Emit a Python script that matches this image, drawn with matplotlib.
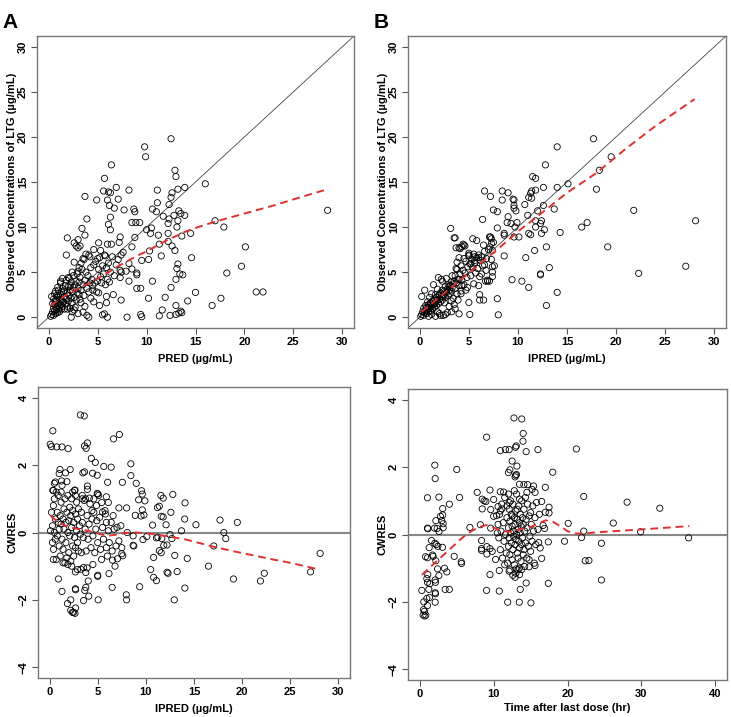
import numpy as np
import matplotlib
matplotlib.use("Agg")
import matplotlib.pyplot as plt

plt.rcParams["font.family"] = ["Liberation Sans", "DejaVu Sans"]
plt.rcParams["font.weight"] = "bold"

# ---- panel A: PRED vs observed ----
a_pts = [
    (12.5, 19.8), (9.8, 18.9), (9.9, 17.8), (6.4, 16.9), (5.7, 15.4), (12.9, 16.3), (13.0, 15.6),
    (16.0, 14.8), (13.9, 14.4), (6.9, 14.4), (5.6, 14.0), (6.1, 13.9), (6.3, 13.8), (8.2, 14.1),
    (11.1, 14.1), (13.2, 14.2), (12.6, 13.8), (3.7, 13.4), (4.9, 13.0), (7.1, 13.1), (6.0, 13.0),
    (12.5, 13.3), (6.2, 12.4), (6.7, 12.1), (7.7, 11.9), (10.6, 12.0), (11.1, 12.7), (11.0, 11.7),
    (8.7, 12.0), (8.8, 11.7), (12.3, 12.5), (13.3, 11.8), (13.5, 11.5), (13.9, 11.3), (11.7, 11.2),
    (12.8, 11.3), (3.9, 10.9), (6.3, 11.1), (8.5, 10.5), (8.9, 10.5), (9.3, 10.5), (12.3, 10.9),
    (12.2, 10.4), (13.2, 10.7), (17.0, 10.7), (6.1, 10.3), (6.3, 9.7), (3.4, 9.85), (10.5, 9.9),
    (13.1, 10.0), (17.9, 10.0), (3.7, 9.1), (1.9, 8.8), (7.3, 8.9), (8.8, 8.85), (10.0, 9.7),
    (10.4, 9.3), (11.2, 9.1), (12.2, 9.3), (13.6, 9.0), (14.5, 9.3), (3.0, 8.6), (5.1, 8.25),
    (6.0, 8.1), (6.4, 8.1), (7.2, 8.3), (2.6, 8.25), (2.8, 7.9), (3.0, 7.7), (3.2, 7.9), (8.5, 7.8),
    (11.3, 8.1), (12.2, 8.4), (12.6, 7.9), (12.9, 7.4), (20.1, 7.8), (10.3, 7.35), (1.8, 6.9),
    (5.3, 7.4), (4.1, 6.9), (4.6, 7.5), (7.4, 6.9), (5.8, 6.8), (11.5, 6.8), (14.6, 6.6), (10.2, 6.4),
    (9.5, 6.3), (5.0, 6.5), (3.5, 6.5), (19.7, 5.65), (13.2, 5.9), (13.1, 5.4), (13.4, 4.8),
    (13.7, 4.7), (18.2, 4.9), (10.6, 4.0), (13.0, 4.2), (7.4, 1.9), (10.2, 2.1), (11.9, 2.2),
    (14.2, 1.8), (15.0, 2.75), (12.5, 3.3), (21.2, 2.8), (21.9, 2.8), (17.6, 2.1), (16.7, 1.3),
    (13.0, 1.3), (11.6, 0.8), (11.3, 0.15), (12.4, 0.2), (13.0, 0.3), (13.3, 0.45), (13.5, 0.67),
    (13.6, 0.5), (8.0, 0.0), (9.4, 0.3), (9.5, 0.05), (6.0, 0.0), (5.5, 0.26), (5.7, 0.37), (3.5, 0.56),
    (4.1, 0.0), (3.9, 0.2), (2.3, 0.0), (7.9, 5.1), (8.2, 4.0), (8.2, 5.95), (9.0, 4.9), (9.0, 4.7),
    (8.5, 5.35), (7.3, 5.2), (7.3, 4.4), (9.0, 3.2), (9.4, 3.2), (28.5, 11.86), (4.7, 3.8), (4.6, 1.7),
    (5.9, 2.3), (6.6, 2.5), (5.2, 1.3), (5.9, 1.6), (5.1, 2.7),
    (0.2, 0.1), (0.3, 0.3), (0.3, 2.3), (0.4, 0.6), (0.4, 1.5), (0.5, 0.2), (0.5, 1.0), (0.5, 2.0),
    (0.6, 0.7), (0.6, 1.4), (0.6, 2.6), (0.7, 0.4), (0.7, 1.2), (0.7, 2.9), (0.8, 0.9), (0.8, 1.8),
    (0.8, 2.4), (0.9, 0.5), (0.9, 1.3), (0.9, 2.2), (1.0, 0.8), (1.0, 1.6), (1.0, 3.0), (1.1, 1.1),
    (1.1, 2.0), (1.1, 0.6), (1.2, 1.4), (1.2, 2.5), (1.2, 3.8), (1.3, 0.9), (1.3, 1.9), (1.4, 1.2),
    (1.4, 3.2), (1.5, 1.7), (1.5, 2.8), (1.6, 0.9), (1.6, 2.3), (1.7, 1.5), (1.7, 3.5), (1.8, 2.0),
    (1.8, 4.1), (1.9, 1.2), (1.9, 2.7), (2.0, 1.8), (2.0, 3.4), (2.1, 2.4), (2.1, 4.3), (2.2, 1.0),
    (2.2, 3.0), (2.3, 2.1), (2.3, 3.9), (2.4, 1.6), (2.4, 2.8), (2.5, 3.3), (2.5, 4.6), (2.6, 2.2),
    (2.6, 0.8), (2.7, 3.6), (2.8, 1.9), (2.8, 4.0), (2.9, 2.7), (3.0, 3.2), (3.0, 5.1), (3.1, 2.5),
    (3.1, 3.9), (3.2, 4.4), (3.3, 1.6), (3.3, 3.0), (3.4, 5.3), (3.5, 3.6), (3.6, 2.4), (3.7, 4.1),
    (3.8, 5.0), (3.9, 3.2), (4.0, 4.6), (4.1, 2.8), (4.2, 3.8), (4.3, 5.5), (4.4, 4.2), (4.5, 3.5),
    (4.6, 5.8), (4.8, 6.2), (5.0, 4.0), (5.1, 5.3), (5.2, 6.6), (5.3, 4.5), (5.4, 3.8), (5.5, 5.7),
    (5.6, 4.8), (5.7, 6.9), (5.8, 3.6), (5.9, 5.5), (6.0, 4.2), (6.1, 6.0), (6.2, 3.9), (6.3, 5.0),
    (6.5, 6.7), (6.7, 4.6), (6.9, 5.8), (7.1, 6.4), (7.4, 5.0), (7.6, 7.2), (4.3, 2.1), (4.5, 3.0),
    (4.9, 2.8), (3.6, 6.4), (3.3, 6.0), (3.1, 5.5), (2.9, 4.8), (2.6, 6.1), (2.4, 5.0), (3.8, 7.0),
    (4.2, 6.7), (2.0, 4.4), (1.4, 4.3), (1.2, 4.0), (0.9, 3.3), (3.2, 2.0), (3.7, 1.2), (2.7, 1.1),
    (2.4, 0.6), (1.9, 0.9), (3.0, 0.4), (0.7, 1.9), (1.0, 2.4), (1.3, 2.8), (1.6, 3.0), (2.2, 3.5),
]
a_loess_x = [0.2, 1, 2, 3, 4, 5, 6, 7, 8, 9, 10, 11, 12, 13, 14, 15, 17, 20, 23, 26, 28.5]
a_loess_y = [1.3, 1.9, 2.6, 3.2, 3.7, 4.3, 4.9, 5.6, 6.2, 6.8, 7.3, 7.9, 8.5, 9.0, 9.5, 9.9,
             10.6, 11.5, 12.4, 13.4, 14.2]

# ---- panel B: IPRED vs observed ----
b_pts = [
    (17.7, 19.8), (14.0, 18.9), (19.5, 17.8), (12.8, 16.9), (18.3, 16.3), (11.5, 15.6), (11.8, 15.4),
    (15.1, 14.8), (14.0, 14.4), (12.6, 14.4), (18.0, 14.2), (6.6, 14.0), (8.4, 14.0), (9.0, 13.8),
    (11.4, 14.0), (11.8, 14.1), (11.3, 13.75), (7.2, 13.4), (8.4, 13.0), (9.5, 13.1), (9.6, 13.0),
    (11.1, 13.3), (11.4, 13.2), (13.7, 12.0), (10.7, 12.5), (9.6, 12.4), (7.5, 11.9), (7.9, 11.7),
    (9.6, 12.1), (9.8, 11.8), (12.0, 11.8), (12.6, 12.4), (21.8, 11.86), (6.4, 10.85), (9.0, 11.15),
    (11.0, 11.3), (8.9, 10.5), (9.3, 10.4), (9.9, 10.5), (12.4, 10.7), (12.3, 10.4), (11.8, 10.7),
    (17.05, 10.5), (28.1, 10.7), (16.5, 10.0), (3.15, 9.85), (7.9, 9.9), (9.7, 10.0), (11.8, 10.0),
    (12.7, 9.7), (14.3, 9.4), (3.6, 8.8), (7.1, 8.9), (8.6, 9.1), (9.6, 8.9), (10.1, 8.9), (11.3, 9.15),
    (11.1, 9.3), (12.4, 9.3), (7.3, 8.7), (7.5, 8.3), (8.6, 9.3), (19.15, 7.8), (12.9, 7.8), (10.8, 6.6),
    (8.6, 6.8), (11.7, 7.4), (13.2, 5.5), (27.1, 5.65), (22.3, 4.87), (12.3, 4.8), (12.3, 4.7),
    (9.4, 4.16), (10.4, 4.0), (11.1, 3.3), (14.0, 2.75), (12.9, 1.3), (7.9, 2.05), (8.0, 0.26),
    (5.1, 0.3), (5.0, 1.64), (6.1, 1.9), (6.5, 1.9), (6.1, 2.5), (4.0, 0.37), (3.6, 0.93), (3.25, 0.6),
    (7.1, 4.0), (6.9, 4.0), (7.4, 4.5), (7.4, 5.0), (7.4, 5.6), (7.6, 5.7), (7.3, 6.4), (7.4, 7.4),
    (7.15, 7.8), (6.3, 6.7), (6.0, 6.6), (5.6, 6.3), (6.6, 5.8), (6.75, 5.2), (6.3, 4.8), (6.1, 4.5),
    (6.0, 3.5), (5.5, 3.7), (4.7, 3.0), (4.85, 3.3), (4.2, 2.6), (4.3, 3.5), (4.0, 4.2), (3.7, 5.4),
    (3.8, 6.1), (4.5, 6.5), (4.3, 7.8), (4.4, 8.1), (4.6, 7.9), (4.0, 7.7), (3.7, 7.7), (5.0, 7.1),
    (5.0, 6.9), (5.6, 6.7), (5.2, 5.95),
    (0.1, 0.1), (0.2, 0.3), (0.2, 2.3), (0.3, 0.6), (0.4, 0.2), (0.4, 1.0), (0.5, 0.5), (0.5, 3.0),
    (0.6, 0.8), (0.6, 1.3), (0.7, 0.4), (0.7, 1.1), (0.8, 0.9), (0.8, 1.7), (0.9, 0.6), (0.9, 1.4),
    (1.0, 1.0), (1.0, 2.2), (1.1, 0.7), (1.1, 1.6), (1.2, 1.2), (1.2, 2.6), (1.3, 0.9), (1.3, 1.8),
    (1.4, 1.4), (1.4, 3.6), (1.5, 1.1), (1.5, 2.0), (1.6, 1.6), (1.6, 2.5), (1.7, 1.3), (1.7, 2.2),
    (1.8, 1.9), (1.8, 3.1), (1.9, 1.5), (1.9, 2.4), (2.0, 2.0), (2.0, 0.4), (2.1, 2.7), (2.1, 1.7),
    (2.2, 2.3), (2.2, 4.2), (2.3, 1.9), (2.3, 3.0), (2.4, 2.5), (2.4, 0.2), (2.5, 2.9), (2.5, 1.6),
    (2.6, 3.4), (2.6, 2.2), (2.7, 2.7), (2.7, 4.3), (2.8, 3.1), (2.8, 0.5), (2.9, 2.4), (2.9, 3.6),
    (3.0, 3.0), (3.0, 1.2), (3.1, 3.5), (3.1, 2.6), (3.2, 3.9), (3.2, 2.9), (3.3, 3.3), (3.3, 4.6),
    (3.4, 2.1), (3.4, 3.7), (3.5, 4.0), (3.5, 1.4), (3.6, 3.2), (3.6, 4.6), (3.7, 3.8), (3.8, 2.6),
    (3.8, 5.3), (3.9, 4.2), (4.0, 3.5), (4.0, 6.6), (4.1, 4.8), (4.2, 2.9), (4.2, 5.7), (4.3, 4.1),
    (4.4, 5.2), (4.5, 3.6), (4.6, 4.9), (4.7, 6.2), (4.8, 4.4), (4.9, 5.6), (5.0, 6.8), (5.1, 5.9),
    (5.2, 4.6), (5.3, 6.4), (5.4, 5.5), (5.5, 7.0), (5.6, 6.0), (5.7, 4.9), (5.8, 6.6), (5.9, 5.4),
    (6.0, 6.9), (6.2, 6.3), (6.4, 5.7), (6.6, 7.3), (6.8, 6.5), (7.0, 7.5), (6.7, 4.0), (6.9, 4.1),
    (7.2, 8.9), (7.3, 8.2), (6.5, 8.0), (5.8, 8.5), (5.4, 8.7), (3.5, 8.8), (4.1, 7.6), (4.5, 8.0),
    (1.9, 4.4), (2.3, 4.0), (2.1, 0.2), (1.8, 0.6), (1.6, 0.1), (1.2, 0.3), (0.9, 0.1), (2.6, 0.3),
    (3.2, 1.8), (3.9, 1.9), (1.0, 1.3), (1.5, 1.5), (2.0, 2.5), (2.5, 2.4), (3.0, 3.4), (0.7, 0.7),
]
b_loess_x = [0.2, 2, 5, 8, 10, 12, 15, 18, 21, 24, 28]
b_loess_y = [0.6, 2.2, 4.9, 7.6, 9.5, 11.2, 13.8, 16.0, 18.7, 21.2, 24.2]

# ---- panel C: IPRED vs CWRES ----
c_pts = [
    (3.2, 3.49), (3.6, 3.46), (0.34, 3.02), (7.25, 2.91), (6.64, 2.78), (0.07, 2.62), (0.2, 2.55),
    (0.75, 2.54), (1.29, 2.54), (1.93, 2.49), (3.93, 2.66), (3.63, 2.57), (3.8, 2.5), (4.34, 2.2),
    (4.75, 2.08), (4.95, 1.7), (4.47, 1.76), (3.46, 1.77), (3.63, 1.8), (5.63, 1.96), (6.4, 1.94),
    (8.44, 2.04), (8.44, 1.69), (1.08, 1.87), (2.14, 1.87), (1.66, 1.77), (0.5, 1.46), (1.25, 1.53),
    (1.8, 1.51), (3.93, 1.38), (3.93, 1.28), (6.03, 1.49), (7.56, 1.49), (9.0, 1.46), (9.56, 1.24),
    (9.63, 1.14), (0.34, 1.25), (5.0, 1.14), (4.95, 1.16), (2.64, 1.26), (2.68, 1.1), (3.39, 1.0),
    (3.73, 1.0), (4.14, 1.02), (5.9, 1.06), (9.9, 0.94), (11.56, 1.1), (11.8, 1.02), (12.8, 1.13),
    (14.07, 0.88), (11.4, 0.78), (11.2, 0.74), (9.25, 0.97), (6.1, 0.89), (5.42, 0.89), (7.2, 0.73),
    (8.0, 0.73), (4.88, 0.8), (5.5, 0.61), (5.76, 0.65), (9.63, 0.67), (9.8, 0.52), (8.9, 0.51),
    (9.5, 0.49), (11.6, 0.48), (11.8, 0.46), (12.6, 0.6), (14.03, 0.4), (17.7, 0.37), (19.5, 0.3),
    (15.2, 0.23), (10.7, 0.22), (12.1, 0.23), (13.7, 0.05), (18.1, 0.0), (18.3, -0.18), (17.05, -0.4),
    (14.3, -0.77), (10.8, -0.74), (13.0, -0.68), (11.6, -0.6), (11.4, -0.54), (11.86, -0.38),
    (11.1, -0.16), (11.25, -0.14), (12.5, -0.06), (11.66, -0.18), (12.7, -0.18), (12.2, -0.37),
    (10.1, -0.12), (9.7, -0.21), (8.68, -0.1), (8.68, -0.38), (8.75, -0.4), (8.07, 0.0), (16.5, -1.0),
    (19.1, -1.38), (22.3, -1.21), (21.9, -1.44), (27.1, -1.17), (28.1, -0.62), (13.25, -1.16),
    (12.2, -1.18), (12.3, -1.21), (10.5, -1.1), (10.8, -1.33), (11.1, -1.43), (9.36, -1.61),
    (14.05, -1.65), (12.95, -2.0), (7.97, -1.85), (8.0, -2.0), (5.05, -2.0), (6.5, -1.63), (6.8, -1.0),
    (6.54, -0.82), (7.05, -0.78), (7.5, -0.63), (7.6, -0.69), (5.0, -1.3), (5.0, -1.27), (6.17, -1.22),
    (3.76, -1.19), (4.02, -1.44), (3.76, -1.63), (3.66, -1.72), (3.53, -2.02), (4.07, -1.89),
    (3.25, -1.09), (3.53, -1.04), (2.68, -1.67), (2.7, -1.7), (2.68, -1.17), (1.29, -1.75),
    (0.92, -1.38), (1.86, -2.11), (2.2, -2.0), (2.2, -2.31), (2.37, -2.37), (2.7, -2.24), (2.64, -2.4),
    (2.5, -2.37),
    (0.1, 0.05), (0.2, 0.6), (0.3, -0.3), (0.3, 0.2), (0.4, 0.8), (0.4, -0.5), (0.5, 1.0), (0.5, 0.0),
    (0.6, -0.2), (0.6, 0.4), (0.7, 1.2), (0.7, -0.8), (0.8, 0.6), (0.8, -0.1), (0.9, 0.3), (0.9, 1.1),
    (1.0, -0.4), (1.0, 0.1), (1.1, 0.5), (1.1, -0.7), (1.2, 0.25), (1.2, 0.9), (1.3, -0.2), (1.3, 1.4),
    (1.4, 0.4), (1.4, -0.5), (1.5, 0.1), (1.5, 0.7), (1.6, -0.9), (1.6, 1.0), (1.7, 0.3), (1.7, -0.3),
    (1.8, 0.6), (1.8, -0.75), (1.9, 0.0), (1.9, 1.1), (2.0, -0.6), (2.0, 0.35), (2.1, 0.75), (2.1, -0.1),
    (2.2, -0.85), (2.2, 0.5), (2.3, 0.15), (2.3, 1.0), (2.4, -0.4), (2.4, 0.65), (2.5, -0.7), (2.5, 0.3),
    (2.6, 1.25), (2.6, -0.15), (2.7, 0.55), (2.7, -0.45), (2.8, 0.05), (2.8, 0.9), (2.9, -0.3), (2.9, 0.4),
    (3.0, 0.7), (3.0, -0.55), (3.1, 0.2), (3.2, -0.05), (3.3, 0.6), (3.3, -0.6), (3.4, 0.3), (3.5, -0.15),
    (3.6, 0.95), (3.7, 0.1), (3.8, -0.55), (3.9, 0.5), (4.0, -0.2), (4.1, 0.25), (4.2, 0.85), (4.3, -0.45),
    (4.4, 0.4), (4.5, -0.1), (4.6, 0.6), (4.7, -0.6), (4.8, 0.1), (4.9, 0.35), (5.0, -0.3), (5.2, 0.45),
    (5.3, -0.5), (5.5, 0.15), (5.6, -0.2), (5.8, 0.55), (5.9, -0.45), (6.1, 0.05), (6.2, -0.3), (6.4, 0.3),
    (6.5, -0.55), (6.7, 0.1), (6.9, -0.4), (7.0, 0.15), (7.2, -0.25), (7.4, 0.2), (7.5, -0.45), (6.0, -0.7),
    (5.4, -0.8), (4.5, -0.95), (3.9, -1.05), (2.9, -1.1), (2.3, -1.0), (1.9, -0.95), (1.4, -0.9),
    (0.4, -0.8), (0.6, 1.5), (1.0, 1.75), (0.4, 1.25), (1.2, 1.2), (2.4, 1.2), (3.4, 1.1), (4.4, 0.65),
    (4.6, 1.0), (5.1, 1.1), (5.9, 0.3), (6.6, 0.5),
]
c_loess_x = [0.1, 1, 2, 3, 4, 5, 6, 7, 8, 9, 10, 11, 12, 13, 14, 15, 17, 19, 21, 23, 25, 28]
c_loess_y = [0.5, 0.28, 0.16, 0.1, 0.05, -0.03, -0.1, -0.06, -0.01, 0.0, -0.02, -0.06, -0.1,
             -0.15, -0.2, -0.27, -0.42, -0.55, -0.67, -0.79, -0.9, -1.1]

# ---- panel D: time after dose vs CWRES ----
d_pts = [
    (12.75, 3.46), (13.8, 3.43), (14.0, 3.0), (13.97, 2.77), (9.04, 2.89), (13.06, 2.63), (12.97, 2.59),
    (10.9, 2.49), (11.6, 2.52), (12.1, 2.52), (14.4, 2.46), (16.0, 2.52), (21.2, 2.54), (12.5, 2.18),
    (13.15, 2.03), (12.2, 1.92), (12.0, 1.84), (12.9, 1.71), (12.97, 1.76), (13.1, 1.78), (18.0, 1.85),
    (2.03, 2.06), (2.08, 1.66), (5.0, 1.93), (13.5, 1.49), (14.1, 1.48), (14.6, 1.48), (15.4, 1.44),
    (17.0, 1.4), (7.77, 1.25), (9.5, 1.32), (1.04, 1.09), (2.58, 1.11), (5.38, 1.1), (22.2, 1.13),
    (28.07, 0.96), (32.5, 0.78), (4.0, 0.9), (3.1, 0.77), (3.1, 0.58), (2.8, 0.54), (2.17, 0.41),
    (2.98, 0.41), (3.16, 0.32), (1.04, 0.19), (1.08, 0.17), (1.99, 0.19), (2.35, 0.18), (3.16, 0.2),
    (2.6, 0.09), (6.78, 0.21), (26.2, 0.34), (20.1, 0.33), (29.9, 0.08), (36.4, -0.1), (19.6, -0.2),
    (22.2, 0.1), (21.9, -0.09), (24.6, -0.26), (22.4, -0.78), (22.9, -0.77), (24.6, -1.35), (17.4, -1.45),
    (1.58, -0.18), (2.03, -0.26), (2.22, -0.3), (2.44, -0.35), (3.07, -0.38), (1.27, -0.39), (1.72, -0.61),
    (1.8, -0.65), (0.77, -0.66), (1.04, -0.69), (2.17, -0.78), (4.66, -0.65), (5.6, -0.81), (5.65, -0.86),
    (3.34, -1.0), (3.66, -1.11), (2.4, -1.02), (2.58, -1.22), (1.08, -1.19), (0.95, -1.31), (1.04, -1.42),
    (1.36, -1.46), (2.08, -1.35), (2.12, -1.42), (1.22, -1.63), (0.27, -1.66), (2.08, -1.73), (2.12, -1.76),
    (3.43, -1.63), (4.0, -1.63), (0.95, -1.9), (1.31, -1.87), (2.08, -2.01), (0.54, -2.0), (1.04, -2.11),
    (0.5, -2.23), (0.45, -2.39), (0.68, -2.42), (0.81, -2.39), (0.63, -2.28), (8.36, -0.18), (8.36, -0.42),
    (9.08, -0.36), (9.5, -0.42), (9.8, -0.5), (9.08, -0.58), (8.36, -0.47), (10.26, -0.74), (9.5, -1.19),
    (10.76, -1.07), (9.04, -1.66), (10.76, -1.68), (11.9, -2.01), (13.47, -2.01), (15.05, -2.03),
    (13.6, -1.63), (14.4, -1.44), (12.1, -1.09), (12.6, -1.21), (12.9, -1.27), (13.5, -1.19), (13.8, -1.04),
    (13.5, -1.0), (13.06, -1.02), (15.6, -0.92), (14.8, -0.96), (16.5, -0.71), (16.3, -0.4), (16.1, -0.24),
    (17.4, -0.22), (16.7, 0.27), (16.9, 0.18), (17.5, 0.64), (17.5, 0.81), (17.0, 0.66), (16.5, 0.98),
    (15.6, 1.25), (15.2, 1.34), (10.0, 1.04), (8.45, 1.05), (8.7, 1.0), (8.45, 0.76), (8.95, 0.98),
    (8.2, 0.29), (9.6, 0.19), (9.6, 0.74), (10.0, 0.54), (10.4, 0.56), (11.1, 0.76), (10.9, 1.27),
    (11.35, 1.26), (10.6, 0.83),
    (10.6, 0.3), (10.7, -0.1), (10.8, 0.6), (10.9, -0.45), (11.0, 0.1), (11.1, 0.9), (11.2, -0.7),
    (11.3, 0.35), (11.4, -0.2), (11.5, 1.1), (11.6, 0.0), (11.7, -0.55), (11.8, 0.5), (11.9, -0.85),
    (12.0, 0.2), (12.0, -0.35), (12.1, 0.75), (12.1, -0.1), (12.2, 0.4), (12.2, -0.6), (12.3, 1.0),
    (12.3, 0.05), (12.4, -0.25), (12.4, 0.6), (12.5, -0.75), (12.5, 0.25), (12.6, 0.9), (12.6, -0.45),
    (12.7, 0.1), (12.7, -0.05), (12.8, 0.5), (12.8, -0.9), (12.9, 0.3), (12.9, -0.3), (13.0, 0.7),
    (13.0, -0.15), (13.1, 1.2), (13.1, 0.0), (13.2, -0.55), (13.2, 0.45), (13.3, 0.15), (13.3, -0.7),
    (13.4, 0.85), (13.4, -0.2), (13.5, 0.35), (13.5, -0.4), (13.6, 0.6), (13.6, 0.05), (13.7, -0.8),
    (13.7, 0.25), (13.8, 1.0), (13.8, -0.3), (13.9, 0.5), (13.9, -0.1), (14.0, -0.6), (14.0, 0.3),
    (14.1, 0.75), (14.1, -0.45), (14.2, 0.1), (14.3, 1.1), (14.3, -0.25), (14.4, 0.45), (14.5, -0.7),
    (14.5, 0.2), (14.6, 0.9), (14.7, -0.35), (14.8, 0.55), (14.9, -0.05), (15.0, 0.65), (15.0, -0.5),
    (15.1, 0.3), (15.2, -0.2), (15.3, 0.85), (15.4, 0.1), (15.5, -0.85), (15.6, 0.5), (15.7, -0.3),
    (15.8, 0.95), (16.0, 0.15), (16.2, 0.6), (11.5, -0.9), (12.2, -1.05), (13.0, -1.15), (13.3, -1.05),
    (14.2, -0.95), (12.0, 1.2), (12.8, 1.3), (13.5, 1.05), (14.5, 1.25), (10.9, 0.7), (10.5, 0.05),
    (11.8, 0.85), (12.5, 0.55), (13.2, 0.75), (12.1, 0.95), (14.8, -0.75),
]
d_loess_x = [0.3, 1, 2, 3, 4, 5, 6, 7, 8, 9, 10, 11, 12, 13, 14, 15, 16, 17, 18, 19, 20, 21, 22,
             25, 30, 36.5]
d_loess_y = [-1.2, -1.05, -0.85, -0.65, -0.45, -0.25, -0.05, 0.1, 0.22, 0.28, 0.2, 0.12, 0.08,
             0.12, 0.18, 0.22, 0.32, 0.42, 0.38, 0.25, 0.1, 0.03, 0.03, 0.08, 0.15, 0.25]

W, H = 731, 717
fig = plt.figure(figsize=(W / 100, H / 100), dpi=100)


def box(l, t, r, b):
    return [l / W, 1 - b / H, (r - l) / W, (b - t) / H]


def style(ax):
    for s in ax.spines.values():
        s.set_color("#777777")
        s.set_linewidth(1.0)
    ax.tick_params(colors="#555555", labelcolor="black", labelsize=8, length=4, width=0.8, pad=2.5)
    for lab in ax.get_yticklabels():
        lab.set_rotation(90)
        lab.set_va("center")
    for lab in ax.get_xticklabels() + ax.get_yticklabels():
        lab.set_fontweight("bold")


def points(ax, pts):
    arr = np.array(pts)
    ax.scatter(arr[:, 0], arr[:, 1], s=20, facecolors="none", edgecolors="black",
               linewidths=0.6, zorder=3)


red = "#e03030"

# A
axA = fig.add_axes(box(37, 36, 354, 328))
points(axA, a_pts)
axA.axline((0, 0), slope=1, color="#444444", lw=0.6, zorder=2)
axA.plot(a_loess_x, a_loess_y, color=red, lw=1.4, dashes=(4, 2.5), zorder=4)
axA.set_xlim(-1.2, 31.2)
axA.set_ylim(-1.2, 31.2)
axA.set_xticks(range(0, 31, 5))
axA.set_yticks(range(0, 31, 5))
axA.set_xlabel("PRED (µg/mL)", fontsize=8, fontweight="bold", labelpad=5)
axA.set_ylabel("Observed Concentrations of LTG (µg/mL)", fontsize=8, fontweight="bold", labelpad=1)
style(axA)

# B
axB = fig.add_axes(box(408, 36, 726, 328))
points(axB, b_pts)
axB.axline((0, 0), slope=1, color="#444444", lw=0.6, zorder=2)
axB.plot(b_loess_x, b_loess_y, color=red, lw=1.4, dashes=(4, 2.5), zorder=4)
axB.set_xlim(-1.2, 31.2)
axB.set_ylim(-1.2, 31.2)
axB.set_xticks(range(0, 31, 5))
axB.set_yticks(range(0, 31, 5))
axB.set_xlabel("IPRED (µg/mL)", fontsize=8, fontweight="bold", labelpad=5)
axB.set_ylabel("Observed Concentrations of LTG (µg/mL)", fontsize=8, fontweight="bold", labelpad=1)
style(axB)

# C
axC = fig.add_axes(box(38, 387, 350, 678))
points(axC, c_pts)
axC.axhline(0, color="#888888", lw=1.5, zorder=2)
axC.plot(c_loess_x, c_loess_y, color=red, lw=1.4, dashes=(4, 2.5), zorder=4)
axC.set_xlim(-1.2, 31.2)
axC.set_ylim(-4.32, 4.32)
axC.set_xticks(range(0, 31, 5))
axC.set_yticks([-4, -2, 0, 2, 4])
axC.set_xlabel("IPRED (µg/mL)", fontsize=8, fontweight="bold", labelpad=5)
axC.set_ylabel("CWRES", fontsize=8, fontweight="bold", labelpad=1)
style(axC)

# D
axD = fig.add_axes(box(408, 389, 727, 680))
points(axD, d_pts)
axD.axhline(0, color="#888888", lw=1.5, zorder=2)
axD.plot(d_loess_x, d_loess_y, color=red, lw=1.4, dashes=(4, 2.5), zorder=4)
axD.set_xlim(-1.6, 41.6)
axD.set_ylim(-4.32, 4.32)
axD.set_xticks(range(0, 41, 10))
axD.set_yticks([-4, -2, 0, 2, 4])
axD.set_xlabel("Time after last dose (hr)", fontsize=8, fontweight="bold", labelpad=3)
axD.set_ylabel("CWRES", fontsize=8, fontweight="bold", labelpad=1)
style(axD)

for letter, x, y in [("A", 2, 689), ("B", 374, 689), ("C", 2, 333), ("D", 372, 333)]:
    fig.text(x / W, y / H, letter, fontsize=15, fontweight="bold")

fig.savefig("out.png", dpi=100)
